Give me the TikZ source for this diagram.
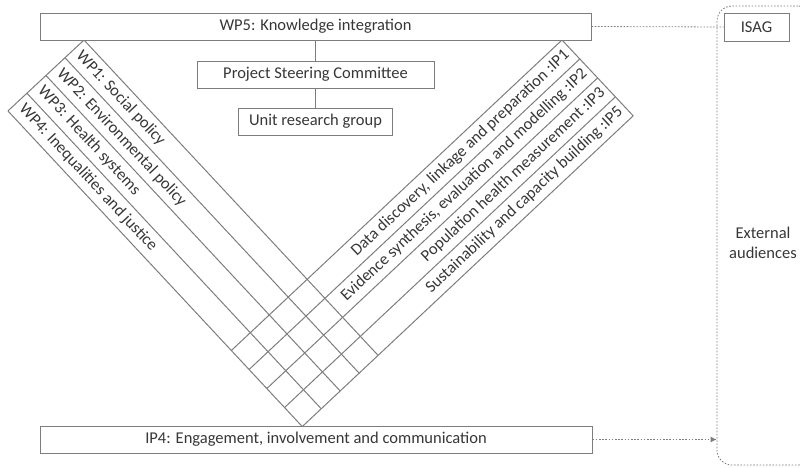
\documentclass[tikz,border=0pt]{standalone}
\usepackage{fontspec}
\setmainfont{Carlito}
\usetikzlibrary{arrows.meta,calc,intersections}
\definecolor{linegray}{RGB}{125,125,125}
\definecolor{textgray}{RGB}{55,55,55}
\tikzset{
  box/.style={draw=linegray, line width=1pt, fill=white, minimum height=27pt, inner sep=0pt, text=textgray, font=\fontsize{16.5}{19.5}\selectfont},
  bandline/.style={draw=linegray, line width=1pt},
  bandtext/.style={text=textgray, font=\fontsize{16.5}{19.5}\selectfont, inner sep=0pt},
  dotline/.style={draw=linegray, line width=0.8pt, dash pattern=on 1.6pt off 1.6pt},
}
\def\aL{47}
\def\aR{43.2}
\def\bw{26}
\begin{document}
\begin{tikzpicture}[x=1pt,y=-1pt]
\useasboundingbox (0,0) rectangle (800,467);
\clip (0,0) rectangle (800,467);
% band edge coordinates
\foreach \k in {0,...,4}{
  \coordinate (L\k) at ({84-\k*\bw*sin(\aL)}, {40+\k*\bw*cos(\aL)});
  \coordinate (LF\k) at ($(L\k)+(\aL:700)$);
  \coordinate (R\k) at ({562+\k*\bw*sin(\aR)}, {40+\k*\bw*cos(\aR)});
  \coordinate (RF\k) at ($(R\k)+(180-\aR:700)$);
}
\path[name path=lfour] (L4) -- (LF4);
\path[name path=rfour] (R4) -- (RF4);
\foreach \k in {0,...,4}{
  \path[name path=lk] (L\k) -- (LF\k);
  \path[name path=rk] (R\k) -- (RF\k);
  \path[name intersections={of=lk and rfour, by={LE\k}}];
  \path[name intersections={of=rk and lfour, by={RE\k}}];
  \draw[bandline] (L\k) -- (LE\k);
  \draw[bandline] (R\k) -- (RE\k);
}
\draw[bandline] (L0) -- (L4);
\draw[bandline] (R0) -- (R4);
% band labels
\foreach \k/\t in {1/{WP1: Social policy}, 2/{WP2: Environmental policy}, 3/{WP3: Health systems}, 4/{WP4: Inequalities and justice}}{
  \node[bandtext, anchor=west, rotate=-\aL, name=wp\k] at ({84-(\k-0.5)*\bw*sin(\aL)+6*cos(\aL)}, {40+(\k-0.5)*\bw*cos(\aL)+6*sin(\aL)}) {\t};
}
\foreach \k/\n/\t in {1/1/{Data discovery, linkage and preparation :IP1}, 2/2/{Evidence synthesis, evaluation and modelling :IP2}, 3/3/{Population health measurement :IP3}, 4/5/{Sustainability and capacity building :IP5}}{
  \node[bandtext, anchor=east, rotate=\aR, name=ip\n] at ({562+(\k-0.5)*\bw*sin(\aR)-5*cos(\aR)}, {40+(\k-0.5)*\bw*cos(\aR)+5*sin(\aR)}) {\t};
}
% boxes
\node[box, minimum width=551pt] (wp5) at (315.5,26.5) {WP5: Knowledge integration};
\node[box, minimum width=237pt] (psc) at (315.5,74.5) {Project Steering Committee};
\node[box, minimum width=154pt] (urg) at (315.5,121.5) {Unit research group};
\node[box, minimum width=552pt] (ip4) at (316,439.5) {IP4: Engagement, involvement and communication};
\node[box, minimum width=65pt, minimum height=28pt] (isag) at (756.5,27) {ISAG};
\node[dotline, rounded corners=15pt, minimum width=96pt, minimum height=459pt, inner sep=0pt] (ext) at (765,235.5) {};
\node[bandtext, align=center] (extlab) at (763,243) {External\\audiences};
% connectors
\draw[bandline] (wp5) -- (psc);
\draw[bandline] (psc) -- (urg);
\draw[dotline] (wp5.east) -- (isag.west);
\draw[dotline, -{Latex[length=6pt,width=6pt]}] (ip4.east) -- (ip4.east -| ext.west);
\end{tikzpicture}
\end{document}
